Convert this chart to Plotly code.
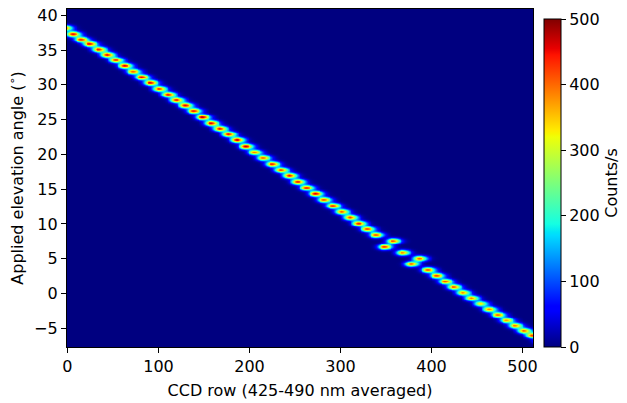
import numpy as np
import plotly.graph_objects as go

# ---- data ----
# spot centre (CCD row) for each applied elevation angle step
blob_x = [-4, 5.5, 14.3, 23.7, 33.6, 42.9, 52.3, 62.2, 71.4, 80.9, 90.4, 100.0, 109.9, 119.0,
          128.7, 138.0, 147.6, 157.1, 166.6, 176.2, 185.7, 195.2, 204.7, 214.3, 224.2, 233.8,
          243.2, 252.3, 261.9, 271.8, 281.1, 291.0, 300.5, 309.9, 319.2, 328.7, 338.2, 357.1,
          347.6, 367.4, 386.0, 377.0, 395.2, 404.9, 414.4, 423.7, 433.6, 443.2, 453.1, 462.6,
          472.1, 481.6, 491.0, 500.7, 510.0, 519.0]
# applied elevation angle (deg) of each spot
blob_y = [38.18, 37.32, 36.54, 35.88, 35.10, 34.34, 33.57, 32.75, 31.93, 31.12, 30.30, 29.44,
          28.62, 27.82, 27.06, 26.27, 25.36, 24.50, 23.72, 22.91, 22.09, 21.18, 20.32, 19.50,
          18.63, 17.77, 16.95, 16.08, 15.22, 14.35, 13.49, 12.62, 11.76, 10.95, 10.09, 9.27,
          8.43, 7.57, 6.71, 5.88, 5.06, 4.25, 3.40, 2.59, 1.74, 0.94, 0.14, -0.65, -1.47,
          -2.26, -3.05, -3.85, -4.61, -5.33, -6.01, -6.83]
# peak count rate (counts/s) of each spot
blob_peak = [450, 450, 430, 450, 440, 450, 430, 460, 400, 450, 460, 430, 450, 440,
             450, 440, 480, 460, 450, 450, 470, 470, 390, 400, 440, 440, 450, 440,
             440, 460, 410, 430, 410, 420, 440, 420, 410, 410, 430, 380, 400, 400,
             410, 420, 410, 410, 380, 390, 330, 380, 400, 370, 390, 400, 420, 420]

x_ticks = [0, 100, 200, 300, 400, 500]
y_ticks = [-5, 0, 5, 10, 15, 20, 25, 30, 35, 40]
cbar_ticks = [0, 100, 200, 300, 400, 500]

# ---- image grid ----
ccd = np.arange(0, 512)
elev = np.arange(-7.8, 41.0, 0.07)
SX_L, SX_R, SY = 4.5, 6.0, 0.27
z = np.zeros((elev.size, ccd.size))
for bx, by, bp in zip(blob_x, blob_y, blob_peak):
    dx = ccd - bx
    sx = np.where(dx < 0, SX_L, SX_R)
    px = np.exp(-0.5 * (dx / sx) ** 2)
    py = np.exp(-0.5 * ((elev - by) / SY) ** 2)
    z += bp * np.outer(py, px)
z = np.round(z).astype(int)

# ---- matplotlib "jet" colormap ----
R = [(0, 0), (0.35, 0), (0.66, 1), (0.89, 1), (1, 0.5)]
G = [(0, 0), (0.125, 0), (0.375, 1), (0.64, 1), (0.91, 0), (1, 0)]
B = [(0, 0.5), (0.11, 1), (0.34, 1), (0.65, 0), (1, 0)]
def ch(seg, t):
    return float(np.interp(t, [s[0] for s in seg], [s[1] for s in seg]))
stops = sorted(set([s[0] for s in R + G + B]))
jet = [[t, "rgb(%d,%d,%d)" % (round(255 * ch(R, t)), round(255 * ch(G, t)), round(255 * ch(B, t)))]
       for t in stops]

FONT = "DejaVu Sans"
FS = 16

fig = go.Figure(go.Heatmap(
    x=ccd, y=elev, z=z, zmin=0, zmax=500, colorscale=jet, zsmooth="best",
    hoverinfo="skip",
    colorbar=dict(
        x=1.0236, xanchor="left", xpad=0, y=0, yanchor="bottom", ypad=0,
        len=0.97, lenmode="fraction", thickness=17,
        outlinewidth=1, outlinecolor="black",
        tickvals=cbar_ticks, ticks="outside", ticklen=5, tickwidth=1, tickcolor="black",
        tickfont=dict(family=FONT, size=FS, color="black"),
        title=dict(text="Counts/s", side="right", font=dict(family=FONT, size=FS, color="black")),
    ),
))

fig.update_layout(
    width=627, height=403,
    margin=dict(l=67, r=94, t=9, b=56, autoexpand=False),
    paper_bgcolor="white", plot_bgcolor="white",
    font=dict(family=FONT, size=FS, color="black"),
)
fig.update_xaxes(
    range=[-0.5, 511.5], tickvals=x_ticks, ticks="outside", ticklen=5, tickwidth=1,
    tickcolor="black", showline=True, linecolor="black", linewidth=1.2, mirror=True,
    showgrid=False, zeroline=False, automargin=False,
    title=dict(text="CCD row (425-490 nm averaged)", standoff=9,
               font=dict(family=FONT, size=FS)),
    tickfont=dict(family=FONT, size=FS),
)
fig.update_yaxes(
    range=[-7.7, 40.9], tickvals=y_ticks, ticks="outside", ticklen=5, tickwidth=1,
    tickcolor="black", showline=True, linecolor="black", linewidth=1.2, mirror=True,
    showgrid=False, zeroline=False, automargin=False,
    title=dict(text="Applied elevation angle (<sup>∘</sup>)", standoff=6,
               font=dict(family=FONT, size=FS)),
    tickfont=dict(family=FONT, size=FS),
)

fig.write_html("out.html", config={"displayModeBar": False},
               post_script="document.body.style.margin='0';")
